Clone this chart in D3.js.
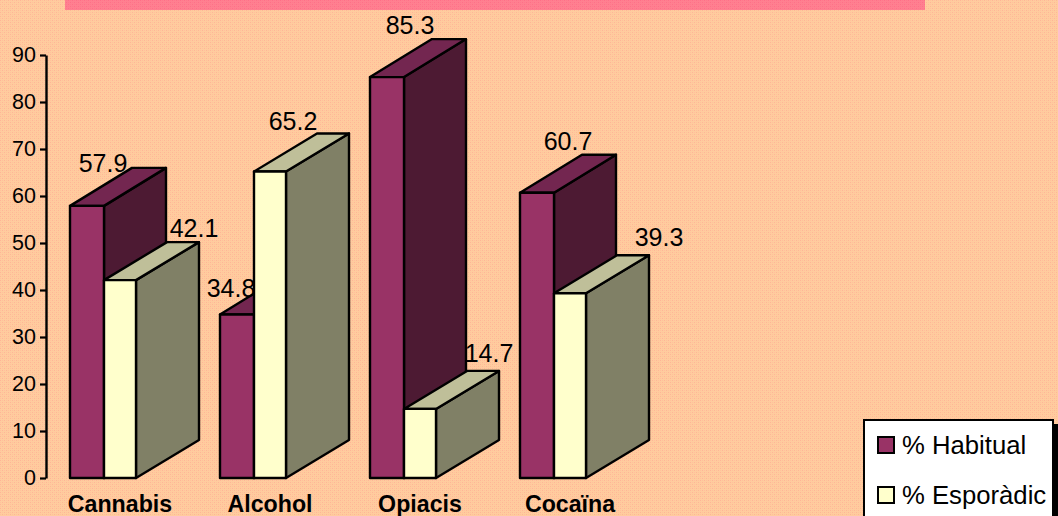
<!DOCTYPE html>
<html><head><meta charset="utf-8">
<script src="https://cdn.jsdelivr.net/npm/d3@7/dist/d3.min.js"></script>
<style>html,body{margin:0;padding:0;background:#FFC8A0;overflow:hidden}svg{display:block}text{font-family:"Liberation Sans",Arial,sans-serif;fill:#000}</style>
</head><body><svg id="c" width="1058" height="516"></svg>
<script>
const categories = ["Cannabis","Alcohol","Opiacis","Cocaïna"];
const habitual = [57.9,34.8,85.3,60.7];
const esporadic = [42.1,65.2,14.7,39.3];
const seriesNames = ["% Habitual","% Esporàdic"];
const yTicks = [0,10,20,30,40,50,60,70,80,90];

const W=1058,H=516;
const svg=d3.select("#c");
const defs=svg.append("defs");
function dither(id,base,dot){
  const p=defs.append("pattern").attr("id",id).attr("width",4).attr("height",4).attr("patternUnits","userSpaceOnUse");
  p.append("rect").attr("width",4).attr("height",4).attr("fill",base);
  p.append("rect").attr("x",0).attr("y",0).attr("width",1).attr("height",1).attr("fill",dot);
  p.append("rect").attr("x",2).attr("y",2).attr("width",1).attr("height",1).attr("fill",dot);
  p.append("rect").attr("x",2).attr("y",0).attr("width",1).attr("height",1).attr("fill",dot).attr("opacity",.5);
  p.append("rect").attr("x",0).attr("y",2).attr("width",1).attr("height",1).attr("fill",dot).attr("opacity",.5);
}
dither("bg","#FFCC9E","#FFB597");
dither("pk","#FF8090","#FF6F88");
svg.append("rect").attr("width",W).attr("height",H).attr("fill","url(#bg)");
svg.append("rect").attr("x",65).attr("y",0).attr("width",860).attr("height",10).attr("fill","url(#pk)");

const y=d3.scaleLinear().domain([0,90]).range([478,55]);
const x=d3.scalePoint().domain(categories).range([70,520]);
const styles=[
 {vals:habitual,off:0,w:34,dx:62,front:"#993366",top:"#732650",side:"#4D1A33"},
 {vals:esporadic,off:34,w:32,dx:63,front:"#FFFFCC",top:"#BFBF99",side:"#808066"}
];
const dy=38;
const lw=2.4;
const marks=svg.append("g").attr("stroke","#000").attr("stroke-width",lw).attr("stroke-linejoin","round");
categories.forEach((c,i)=>{
  styles.forEach(s=>{
    const x0=x(c)+s.off,x1=x0+s.w,y0=y(0),yt=y(s.vals[i]),d=s.dx;
    const g=marks.append("g");
    g.append("path").attr("fill",s.side).attr("d",d3.line()([[x1,y0],[x1+d,y0-dy],[x1+d,yt-dy],[x1,yt]])+"Z");
    g.append("path").attr("fill",s.top).attr("d",d3.line()([[x0,yt],[x0+d,yt-dy],[x1+d,yt-dy],[x1,yt]])+"Z");
    g.append("rect").attr("x",x0).attr("y",yt).attr("width",s.w).attr("height",y0-yt).attr("fill",s.front);
  });
});

// Y axis
const ax=svg.append("g").attr("transform","translate(46,0)").call(d3.axisLeft(y).tickValues(yTicks).tickSize(6).tickPadding(4).tickSizeOuter(0));
ax.select(".domain").attr("stroke","#000").attr("stroke-width",2.4);
ax.selectAll(".tick line").attr("stroke","#000").attr("stroke-width",2.2);
ax.selectAll("text").attr("font-size",21.5).attr("font-family","Liberation Sans").attr("fill","#000");

// Category labels
svg.append("g").selectAll("text").data(categories).join("text")
 .attr("x",(d,i)=>x(d)+50).attr("y",512).attr("text-anchor","middle")
 .attr("font-size",23.2).attr("font-weight","bold").text(d=>d);

// Data labels: hand-placed offsets from the bar's top-left corner, as in the original
const labelShift=[[[33,-43],[90,-52]],[[11,-26],[39,-51]],[[40,-52],[85,-56]],[[48,-52],[105,-56]]];
const lab=svg.append("g");
categories.forEach((c,i)=>{
  styles.forEach((s,j)=>{
    lab.append("text").attr("x",x(c)+s.off+labelShift[i][j][0]).attr("y",y(s.vals[i])+labelShift[i][j][1]+9)
     .attr("text-anchor","middle").attr("font-size",25).text(d3.format(".1f")(s.vals[i]));
  });
});

// Legend
svg.append("rect").attr("x",868).attr("y",424).attr("width",190).attr("height",100).attr("fill","#000");
svg.append("rect").attr("x",864).attr("y",420).attr("width",189).attr("height",100).attr("fill","#fff").attr("stroke","#000").attr("stroke-width",2);
seriesNames.forEach((n,i)=>{
  const ly=445+i*50;
  svg.append("rect").attr("x",878).attr("y",ly-8).attr("width",16).attr("height",16).attr("fill",styles[i].front).attr("stroke","#000").attr("stroke-width",2);
  svg.append("text").attr("x",902).attr("y",ly+8.5).attr("font-size",25.7).text(n);
});
</script></body></html>
